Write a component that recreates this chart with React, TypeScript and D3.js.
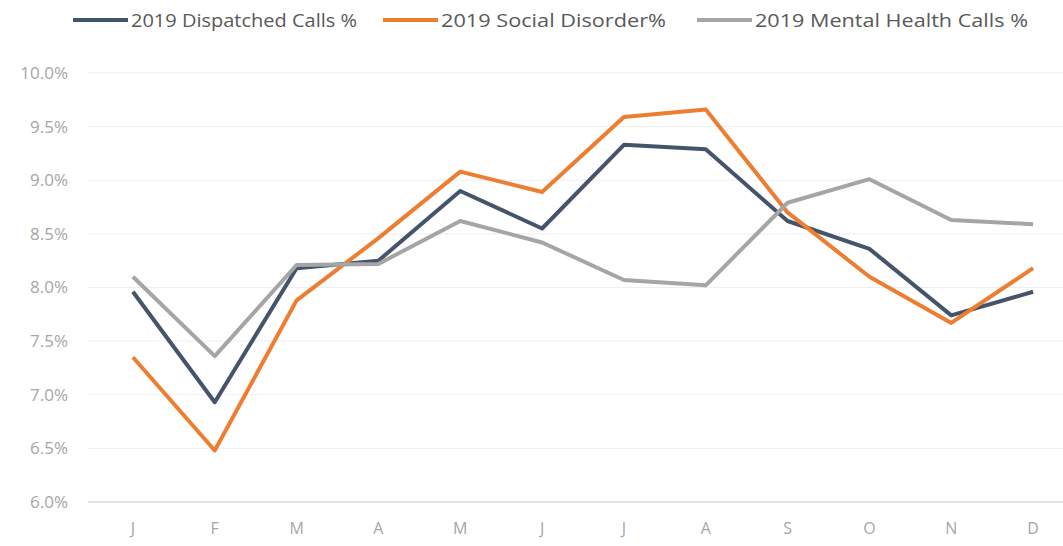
import React from "react";
import * as d3 from "d3";

const months = ["J", "F", "M", "A", "M", "J", "J", "A", "S", "O", "N", "D"];
const dispatched = [7.96, 6.93, 8.18, 8.25, 8.9, 8.55, 9.33, 9.29, 8.62, 8.36, 7.74, 7.96];
const socialDisorder = [7.35, 6.48, 7.88, 8.46, 9.08, 8.89, 9.59, 9.66, 8.7, 8.1, 7.67, 8.18];
const mentalHealth = [8.1, 7.36, 8.21, 8.22, 8.62, 8.42, 8.07, 8.02, 8.79, 9.01, 8.63, 8.59];
const yTicks = [6.0, 6.5, 7.0, 7.5, 8.0, 8.5, 9.0, 9.5, 10.0];

const seriesList = [
  { name: "2019 Dispatched Calls %", values: dispatched, color: "#44546a", lx: 73, tw: 226 },
  { name: "2019 Social Disorder%", values: socialDisorder, color: "#ed7d31", lx: 383, tw: 225 },
  { name: "2019 Mental Health Calls %", values: mentalHealth, color: "#a5a5a5", lx: 697, tw: 273 },
];

const W = 1063;
const H = 546;

export default function App() {
  const x = d3.scaleBand<number>().domain(d3.range(12)).range([92, 1074]);
  const y = d3.scaleLinear().domain([6, 10]).range([502, 73]);
  const line = d3
    .line<number>()
    .x((_, i) => (x(i) as number) + x.bandwidth() / 2)
    .y((d) => y(d));
  const font = "'Open Sans', Lato, sans-serif";
  return (
    <svg
      width={W}
      height={H}
      style={{ position: "absolute", left: 0, top: 0, background: "#fff" }}
      fontFamily={font}
    >
      <rect x={0} y={0} width={W} height={H} fill="#fff" />
      {yTicks.map((t) => (
        <g key={t}>
          {t !== 6 && (
            <line x1={88} x2={W} y1={y(t)} y2={y(t)} stroke="#eeeeee" strokeWidth={1} />
          )}
          <text x={68} y={y(t)} dy="0.35em" textAnchor="end" fontSize={17} fill="#a6a6a6">
            {t.toFixed(1) + "%"}
          </text>
        </g>
      ))}
      <line x1={88} x2={W} y1={y(6)} y2={y(6)} stroke="#d9d9d9" strokeWidth={1.5} />
      {months.map((m, i) => (
        <text
          key={i}
          x={(x(i) as number) + x.bandwidth() / 2}
          y={534}
          textAnchor="middle"
          fontSize={16}
          fill="#a6a6a6"
        >
          {m}
        </text>
      ))}
      {seriesList.map((s) => (
        <path
          key={s.name}
          d={line(s.values) || ""}
          fill="none"
          stroke={s.color}
          strokeWidth={4}
          strokeLinejoin="round"
        />
      ))}
      {seriesList.map((s) => (
        <g key={"lg" + s.name}>
          <line x1={s.lx} x2={s.lx + 55} y1={20} y2={20} stroke={s.color} strokeWidth={4} />
          <text
            x={s.lx + 58}
            y={20}
            dy="0.35em"
            fontSize={19}
            fill="#595959"
            textLength={s.tw}
            lengthAdjust="spacingAndGlyphs"
          >
            {s.name}
          </text>
        </g>
      ))}
    </svg>
  );
}
